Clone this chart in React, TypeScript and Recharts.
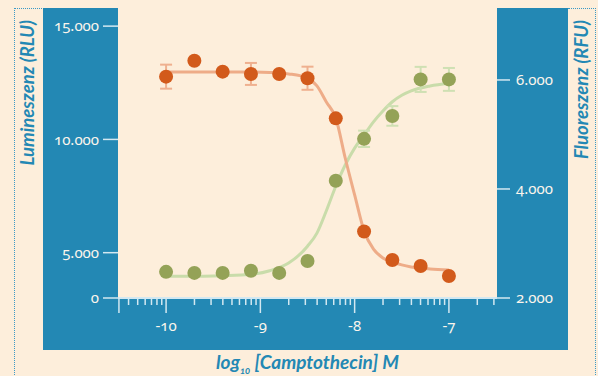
import React from 'react';
import {
  ComposedChart,
  Line,
  Scatter,
  XAxis,
  YAxis,
  CartesianGrid,
  ErrorBar,
} from 'recharts';

// log10 of the Camptothecin concentration for each measured point
const doseLog = [-10, -9.7, -9.4, -9.1, -8.8, -8.5, -8.2, -7.9, -7.6, -7.3, -7];
const lumiValues = [12770, 13470, 12990, 12890, 12890, 12700, 10930, 5935, 4680, 4410, 3970];
const lumiErrors = [530, 0, 0, 485, 0, 510, 0, 0, 0, 0, 0];
const fluoValues = [2480, 2460, 2460, 2500, 2460, 2680, 4150, 4920, 5340, 6010, 6010];
const fluoErrors = [0, 0, 0, 0, 0, 0, 0, 150, 180, 230, 210];

// fitted curves
const fitLog = [-10, -9.6, -9.2, -8.9, -8.7, -8.5, -8.4, -8.3, -8.2, -8.1, -8, -7.9, -7.8, -7.7, -7.6, -7.5, -7.4, -7.2, -7];
const lumiFit = [12975, 12975, 12975, 12950, 12890, 12710, 12360, 11650, 10945, 9180, 7550, 5960, 5160, 4770, 4590, 4460, 4370, 4280, 4240];
const fluoFit = [2400, 2400, 2420, 2500, 2640, 2950, 3190, 3600, 4050, 4440, 4750, 4990, 5230, 5430, 5600, 5720, 5800, 5890, 5940];

const lumiTicks = [3000, 5000, 10000, 15000];
const fluoTicks = [2000, 4000, 6000];
const majorTicks = [-10, -9, -8, -7];
const edgeTick = -10.5;
const xDomain = [-10.51, -6.49];

const BLUE = '#2388b4';
const CREAM = '#fdeedb';
const TICK_TEXT = '#fbf5ec';
const AXIS_LINE = '#d3e8f1';
const NUM_FONT = '"Noto Sans", Lato, sans-serif';

const minorTicks: number[] = [];
[-11, -10, -9, -8, -7].forEach((d) => {
  [2, 3, 4, 5, 6, 7, 8, 9].forEach((k) => {
    const v = d + Math.log10(k);
    if (v > xDomain[0] && v < xDomain[1]) minorTicks.push(v);
  });
});
const xTicks = [edgeTick, ...majorTicks, ...minorTicks].sort((a, b) => a - b);

const lumiPoints = doseLog.map((x, i) => ({ x, y: lumiValues[i], err: lumiErrors[i] }));
const fluoPoints = doseLog.map((x, i) => ({ x, y: fluoValues[i], err: fluoErrors[i] }));
const lumiCurve = fitLog.map((x, i) => ({ x, y: lumiFit[i] }));
const fluoCurve = fitLog.map((x, i) => ({ x, y: fluoFit[i] }));

const fmt = (v: number) => (v === lumiTicks[0] ? '0' : String(v).replace(/\B(?=(\d{3})+(?!\d))/g, '.'));

function XTick(props: any) {
  const { x, y, payload } = props;
  const v = payload.value;
  const isMajor = majorTicks.includes(v);
  const long = isMajor || v === edgeTick;
  return (
    <g>
      <line x1={x} x2={x} y1={y} y2={y + (long ? 15 : 7)} stroke={AXIS_LINE} strokeWidth={1.5} />
      {isMajor && (
        <text x={x} y={y + 33} textAnchor="middle" fill={TICK_TEXT} fontSize={15} fontFamily={NUM_FONT}>
          {String(v)}
        </text>
      )}
    </g>
  );
}

function SideLabel(props: any) {
  const { viewBox, text, side } = props;
  const x = side === 'left' ? viewBox.x - 9 : viewBox.x + viewBox.width + 20;
  const y = viewBox.y + 12;
  return (
    <text
      x={x}
      y={y}
      transform={`rotate(-90, ${x}, ${y})`}
      textAnchor="end"
      fill={BLUE}
      fontSize={18.5}
      fontWeight={700}
      fontStyle="italic"
    >
      {text}
    </text>
  );
}

function BottomLabel(props: any) {
  const { viewBox } = props;
  const x = viewBox.x + viewBox.width / 2;
  const y = viewBox.y + viewBox.height + 19;
  return (
    <text x={x} y={y} textAnchor="middle" fill={BLUE} fontSize={19} fontWeight={700} fontStyle="italic">
      log
      <tspan fontSize={9.5} dy={5}>10</tspan>
      <tspan dy={-5}> [Camptothecin] M</tspan>
    </text>
  );
}

const dot = (fill: string) => (p: any) => <circle cx={p.cx} cy={p.cy} r={7} fill={fill} />;

export default function App() {
  return (
    <div
      style={{
        position: 'absolute',
        left: 0,
        top: 0,
        width: 598,
        height: 376,
        background: CREAM,
        fontFamily: 'Lato, "Open Sans", sans-serif',
        fontFeatureSettings: '"onum" 1',
        overflow: 'hidden',
      }}
    >
      <div style={{ position: 'absolute', left: 14, top: 8, width: 29, height: 368, borderLeft: '1px dotted #3b99c6', borderTop: '1px dotted #3b99c6' }} />
      <div style={{ position: 'absolute', left: 568, top: 8, width: 27, height: 368, borderRight: '1px dotted #3b99c6', borderTop: '1px dotted #3b99c6' }} />
      <div style={{ position: 'absolute', left: 43, top: 8, width: 525, height: 342, background: BLUE }} />
      <div style={{ position: 'absolute', left: 0, top: 0 }}>
        <ComposedChart width={598} height={376} margin={{ top: 8, right: 30, bottom: 26, left: 43 }}>
          <CartesianGrid horizontal={false} vertical={false} fill={CREAM} stroke="none" />
          <XAxis
            type="number"
            dataKey="x"
            domain={xDomain}
            ticks={xTicks}
            interval={0}
            height={52}
            tickSize={0}
            tickMargin={0}
            tick={<XTick />}
            axisLine={{ stroke: AXIS_LINE, strokeWidth: 2 }}
            label={<BottomLabel />}
            allowDataOverflow
          />
          <YAxis
            yAxisId="left"
            orientation="left"
            width={75}
            domain={[3000, 15800]}
            ticks={lumiTicks}
            interval={0}
            tickFormatter={fmt}
            tickSize={15}
            tickMargin={4}
            tick={{ fill: TICK_TEXT, fontSize: 15, fontFamily: NUM_FONT }}
            tickLine={{ stroke: AXIS_LINE, strokeWidth: 1.5 }}
            axisLine={false}
            allowDataOverflow
            label={<SideLabel text="Lumineszenz (RLU)" side="left" />}
          />
          <YAxis
            yAxisId="right"
            orientation="right"
            width={71}
            domain={[2000, 7320]}
            ticks={fluoTicks}
            interval={0}
            tickFormatter={fmt}
            tickSize={13}
            tickMargin={6}
            tick={{ fill: TICK_TEXT, fontSize: 15, fontFamily: NUM_FONT }}
            tickLine={{ stroke: AXIS_LINE, strokeWidth: 1.5 }}
            axisLine={false}
            allowDataOverflow
            label={<SideLabel text="Fluoreszenz (RFU)" side="right" />}
          />
          <Line
            yAxisId="right"
            data={fluoCurve}
            dataKey="y"
            type="monotone"
            stroke="#c9dcaa"
            strokeWidth={3}
            dot={false}
            activeDot={false}
            isAnimationActive={false}
          />
          <Line
            yAxisId="left"
            data={lumiCurve}
            dataKey="y"
            type="monotone"
            stroke="#eeac88"
            strokeWidth={3}
            dot={false}
            activeDot={false}
            isAnimationActive={false}
          />
          <Scatter yAxisId="left" data={lumiPoints} dataKey="y" shape={dot('#d25a1b')} isAnimationActive={false}>
            <ErrorBar dataKey="err" direction="y" width={6} stroke="#efb08f" strokeWidth={2} />
          </Scatter>
          <Scatter yAxisId="right" data={fluoPoints} dataKey="y" shape={dot('#94a257')} isAnimationActive={false}>
            <ErrorBar dataKey="err" direction="y" width={6} stroke="#cfe0b3" strokeWidth={2} />
          </Scatter>
        </ComposedChart>
      </div>
    </div>
  );
}
